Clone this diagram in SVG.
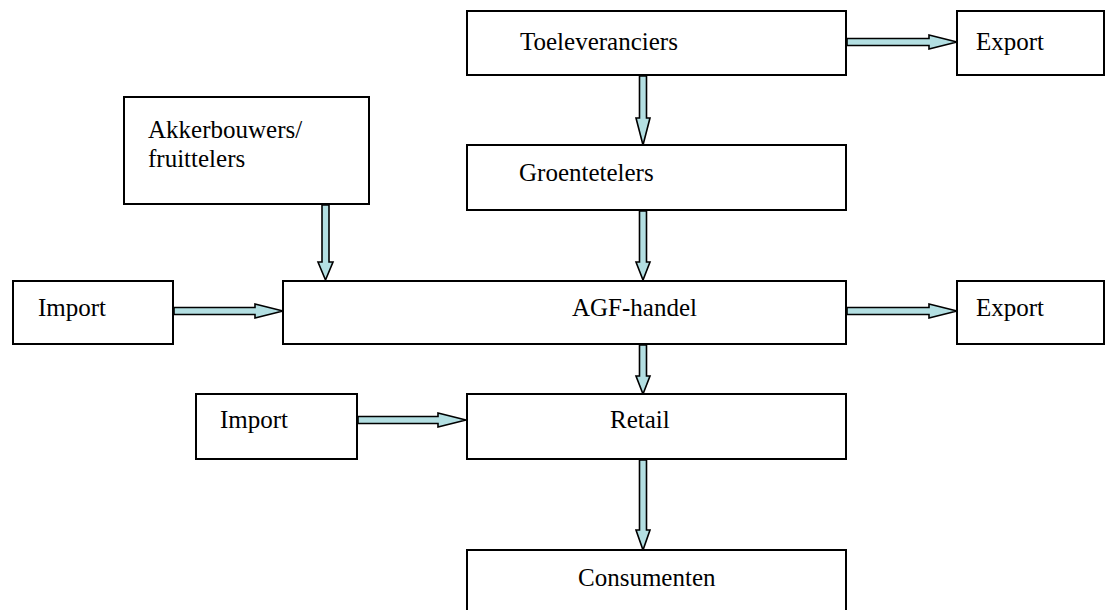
<svg xmlns="http://www.w3.org/2000/svg" width="1106" height="610" viewBox="0 0 1106 610">
<style>
.box{fill:#fff;stroke:#000;stroke-width:2}
.t{font-family:"Liberation Serif","Times New Roman",serif;font-size:25px;fill:#000}
.ar{fill:#b3dfe2;stroke:#000;stroke-width:1.6;stroke-linejoin:miter}
</style>
<rect width="1106" height="610" fill="#fff"/>
<g id="connectors">
<polygon class="ar" points="847,38.5 929,38.5 929,35 957,42 929,49 929,45.5 847,45.5"/>
<polygon class="ar" points="639.5,76 646.5,76 646.5,118 650,118 643,145 636,118 639.5,118"/>
<polygon class="ar" points="322,205 329,205 329,262 333,262 325.5,280 318,262 322,262"/>
<polygon class="ar" points="639.5,211 646.5,211 646.5,262 650,262 643,280 636,262 639.5,262"/>
<polygon class="ar" points="174,307.5 255,307.5 255,304 283,311 255,318 255,314.5 174,314.5"/>
<polygon class="ar" points="847,307.5 929,307.5 929,304 957,311 929,318 929,314.5 847,314.5"/>
<polygon class="ar" points="639.5,345 646.5,345 646.5,376 650,376 643,394 636,376 639.5,376"/>
<polygon class="ar" points="358,416.5 438,416.5 438,413 466,420 438,427 438,423.5 358,423.5"/>
<polygon class="ar" points="639.5,460 646.5,460 646.5,530 650,530 643,550 636,530 639.5,530"/>
</g>
<g id="toeleveranciers"><rect class="box" x="467" y="11" width="379" height="64"/><text class="t" x="520" y="50">Toeleveranciers</text></g>
<g id="export-top"><rect class="box" x="957" y="11" width="147" height="64"/><text class="t" x="976" y="50">Export</text></g>
<g id="akkerbouwers"><rect class="box" x="124" y="97" width="245" height="107"/><text class="t" x="148" y="138">Akkerbouwers/</text><text class="t" x="148" y="167">fruittelers</text></g>
<g id="groentetelers"><rect class="box" x="467" y="145" width="379" height="65"/><text class="t" x="519" y="181">Groentetelers</text></g>
<g id="import-left"><rect class="box" x="13" y="281" width="160" height="63"/><text class="t" x="38" y="316">Import</text></g>
<g id="agf-handel"><rect class="box" x="283" y="281" width="563" height="63"/><text class="t" x="572" y="316">AGF-handel</text></g>
<g id="export-mid"><rect class="box" x="957" y="281" width="147" height="63"/><text class="t" x="976" y="316">Export</text></g>
<g id="import-lower"><rect class="box" x="196" y="394" width="161" height="65"/><text class="t" x="220" y="428">Import</text></g>
<g id="retail"><rect class="box" x="467" y="394" width="379" height="65"/><text class="t" x="610" y="428">Retail</text></g>
<g id="consumenten"><rect class="box" x="467" y="550" width="379" height="64"/><text class="t" x="578" y="586">Consumenten</text></g>
</svg>
